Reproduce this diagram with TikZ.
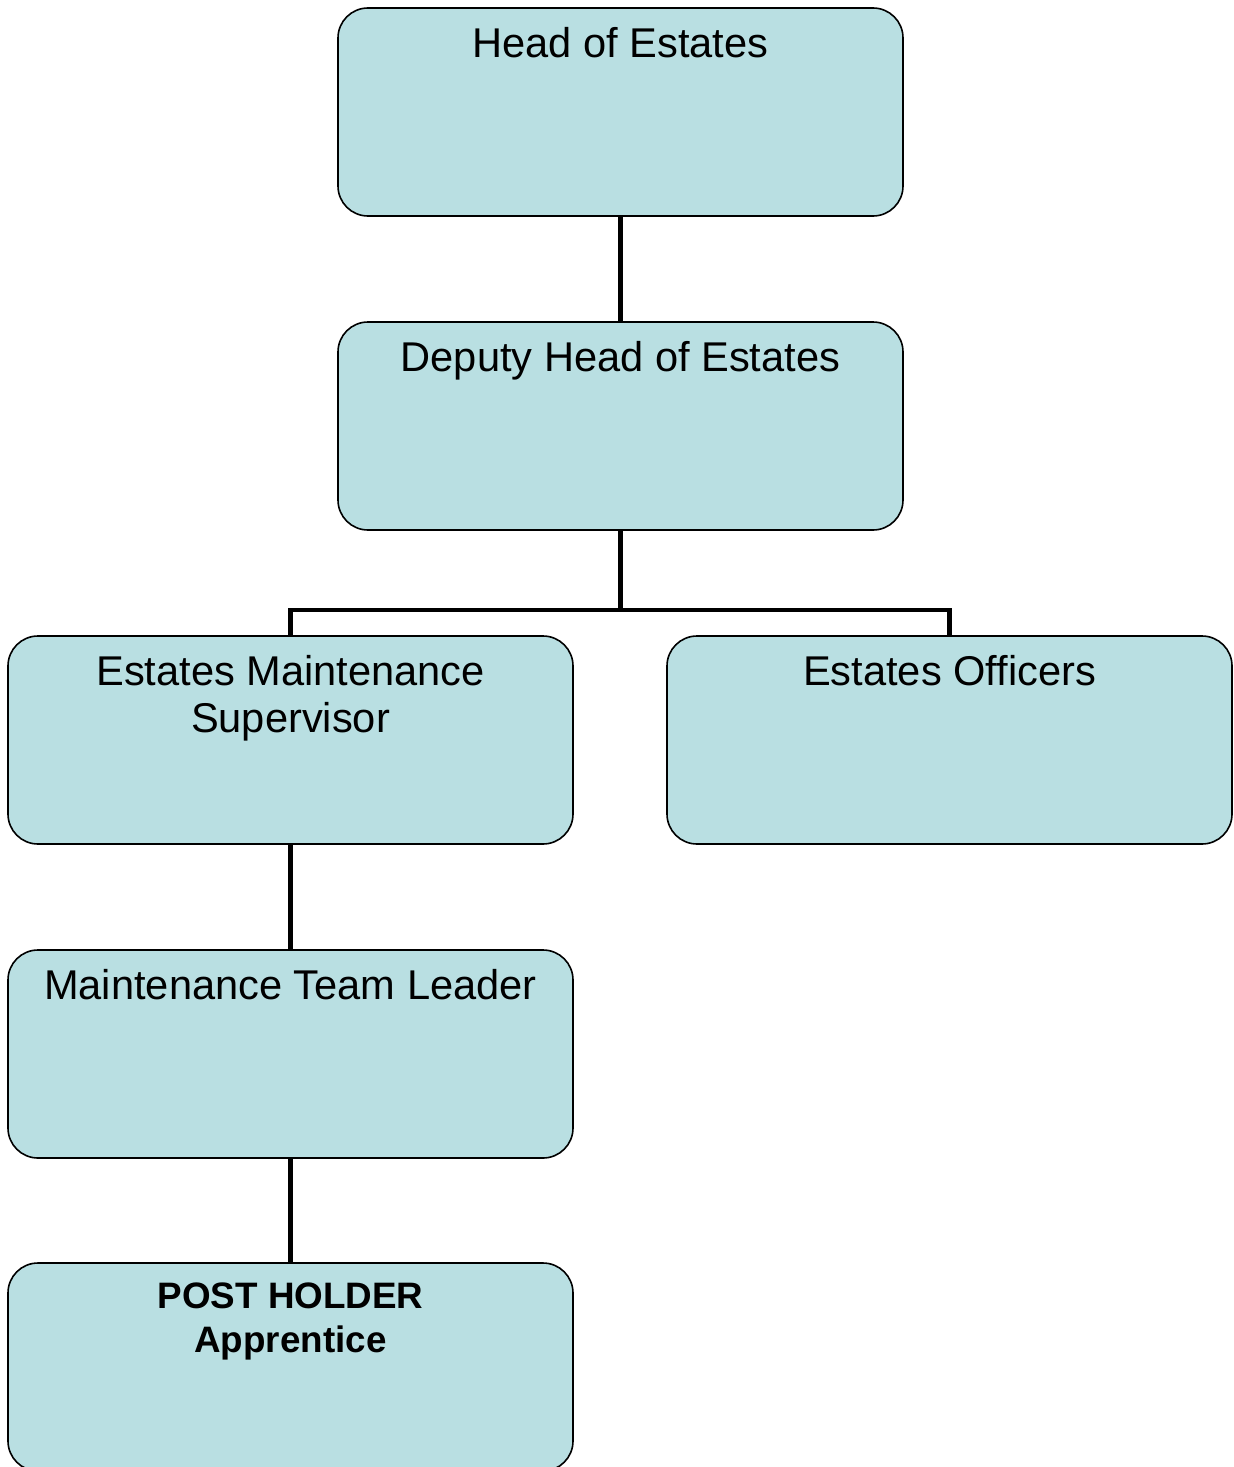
\documentclass[tikz,border=0pt]{standalone}
\usepackage{fontspec}
\setmainfont{Liberation Sans}
\usetikzlibrary{positioning}
\definecolor{boxfill}{HTML}{B9DFE2}

\begin{document}
\begin{tikzpicture}[x=0.5pt, y=-0.5pt]
    \tikzset{post/.style={draw, fill=boxfill, line width=0.8pt,
            rounded corners=15pt, minimum width=282.5pt,
            minimum height=104pt, inner sep=0pt, outer sep=0pt},
        title/.style={anchor=north, align=center, inner sep=0pt,
            font=\fontsize{20.8}{23.5}\selectfont},
        boldtitle/.style={title, font=\fontsize{18.4}{22}\selectfont\bfseries},
        link/.style={line width=2.4pt}}
    \useasboundingbox (0,0) rectangle (1233,1467);
    \clip (0,0) rectangle (1233,1467);
    \node[post] (head) at (620.5,112) {};
    \node[post, below=53pt of head] (deputy) {};
    \node[post] (supervisor) at (290.5,740) {};
    \node[post] (officers) at (949.5,740) {};
    \node[post, below=53pt of supervisor] (leader) {};
    \node[post, below=52.5pt of leader] (holder) {};
    % titles sit near the top edge
    \node[title] (headT) at ([yshift=-9.5pt]head.north) {Head of Estates};
    \node[title] (deputyT) at ([yshift=-9.5pt]deputy.north) {Deputy Head of Estates};
    \node[title] (supervisorT) at ([yshift=-9.5pt]supervisor.north)
        {Estates Maintenance\\Supervisor};
    \node[title] (officersT) at ([yshift=-9.5pt]officers.north) {Estates Officers};
    \node[title] (leaderT) at ([yshift=-9.5pt]leader.north) {Maintenance Team Leader};
    \node[boldtitle] (holderT) at ([yshift=-9.5pt]holder.north)
        {POST HOLDER\\Apprentice};
    \coordinate (split) at (620.5,610);
    \draw[link] (head) -- (deputy);
    \draw[link] (deputy.south) -- (split);
    \draw[link] (supervisor.north) |- (split) -| (officers.north);
    \draw[link] (supervisor) -- (leader);
    \draw[link] (leader) -- (holder);
\end{tikzpicture}
\end{document}
